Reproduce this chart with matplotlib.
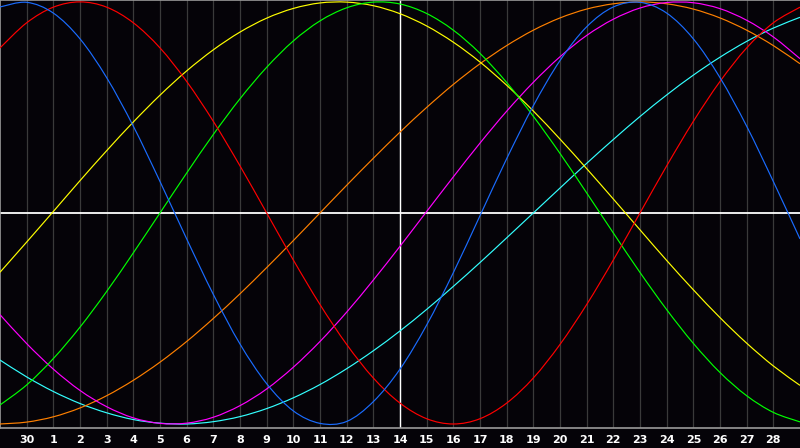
#!/usr/bin/env python3

import matplotlib.pyplot as plt
from matplotlib.path import Path
from matplotlib.patches import PathPatch

# day labels under the grid lines (positions 1..29)
etiquetas = ['30'] + [str(d) for d in range(1, 29)]
posiciones = list(range(31))  # 0..30 across the width

# values in percent, one per position
fisico = [97.6, 99.8, 94.7, 82.5, 64.1, 41.1, 14.9, -12.3, -38.6, -62.1, -80.9, -93.8,
          -99.7, -98.8, -89.4, -74.0, -53.1, -28.3, -1.3, 25.7, 50.8, 72.2, 88.2,
          97.6, 99.8, 94.7, 82.5, 64.1, 41.1, 14.9, -12.3]
emocional = [78.2, 90.1, 97.5, 100, 97.5, 90.1, 78.2, 62.3, 43.4, 22.3, 0, -22.3,
             -43.4, -62.3, -78.2, -90.1, -97.5, -100, -97.5, -90.1, -78.2, -62.3, -43.4,
             -22.3, 0, 22.3, 43.4, 62.3, 78.2, 90.1, 97.5]
intelectual = [-91.0, -81.5, -69.0, -54.1, -37.2, -18.9, 0, 18.9, 37.2, 54.1, 69.0, 81.5,
               91.0, 97.2, 99.9, 99.0, 94.5, 86.6, 75.6, 61.8, 45.8, 28.2, 9.5, -9.5,
               -28.2, -45.8, -61.8, -75.6, -86.6, -94.5, -99.0]
intuicion = [-48.2, -61.9, -74.0, -84.1, -91.8, -97.1, -99.7, -99.6, -96.8, -91.3, -83.4,
             -73.1, -60.9, -47.0, -31.8, -15.8, 0.7, 17.1, 33.1, 48.2, 61.9, 74.0, 84.1,
             91.8, 97.1, 99.7, 99.6, 96.8, 91.3, 83.4, 73.1]
estetico = [-28.1, -13.8, 0.7, 15.3, 29.5, 43.1, 55.8, 67.3, 77.3, 85.7, 92.3, 96.9,
            99.5, 99.9, 98.2, 94.4, 88.6, 80.9, 71.5, 60.5, 48.3, 35.0, 21.0, 6.6,
            -8.0, -22.5, -36.4, -49.6, -61.7, -72.5, -81.7]
conciencia = [-100, -99.1, -96.6, -92.4, -86.6, -79.3, -70.7, -60.9, -50, -38.3, -25.9,
              -13.1, 0, 13.1, 25.9, 38.3, 50, 60.9, 70.7, 79.3, 86.6, 92.4, 96.6, 99.1,
              100, 99.1, 96.6, 92.4, 86.6, 79.3, 70.7]
espiritual = [-69.7, -77.7, -84.6, -90.3, -94.7, -97.9, -99.6, -100.0, -98.9, -96.5,
              -92.7, -87.6, -81.3, -73.8, -65.3, -55.9, -45.7, -34.8, -23.5, -11.8, 0,
              11.8, 23.5, 34.8, 45.7, 55.9, 65.3, 73.8, 81.3, 87.6, 92.7]

series = [
    (espiritual, '#33ffff'),
    (conciencia, '#ff8000'),
    (intuicion, '#ff00ff'),
    (estetico, '#ffff00'),
    (intelectual, '#00ff00'),
    (emocional, '#ff0000'),
    (fisico, '#1a6cff'),
]

fondo = '#050308'


def curva_suave(xs, ys):
    # smooth path through the points (catmull-rom as cubic bezier)
    pts = list(zip(xs, ys))
    ext = [pts[0]] + pts + [pts[-1]]
    verts = [pts[0]]
    codes = [Path.MOVETO]
    for i in range(1, len(ext) - 2):
        p0, p1, p2, p3 = ext[i - 1], ext[i], ext[i + 1], ext[i + 2]
        c1 = (p1[0] + (p2[0] - p0[0]) / 6, p1[1] + (p2[1] - p0[1]) / 6)
        c2 = (p2[0] - (p3[0] - p1[0]) / 6, p2[1] - (p3[1] - p1[1]) / 6)
        verts += [c1, c2, p2]
        codes += [Path.CURVE4] * 3
    return Path(verts, codes)


def main():
    fig = plt.figure(figsize=(8, 4.48), dpi=100, facecolor=fondo)
    ax = fig.add_axes([0, 20 / 448, 1, 428 / 448])
    ax.set_facecolor(fondo)

    ax.set_xlim(0, 30)
    ax.set_ylim(-101.9, 100.9)

    # day grid
    for x in range(1, 30):
        ax.axvline(x, color='#3a3a3a', linewidth=0.9, zorder=1)

    # crosshair (today / zero)
    ax.axvline(15, color='white', linewidth=1.0, zorder=2)
    ax.axhline(0, color='white', linewidth=1.3, zorder=2)

    for valores, color in series:
        ax.add_patch(PathPatch(curva_suave(posiciones, valores), fill=False,
                               edgecolor=color, linewidth=0.85, zorder=3))

    ax.set_xticks(range(1, 30))
    ax.set_xticklabels(etiquetas)
    ax.tick_params(axis='x', length=0, pad=5, colors='white', labelsize=8)
    for t in ax.get_xticklabels():
        t.set_fontweight('bold')
    ax.set_yticks([])

    for lado in ['top', 'left', 'bottom']:
        ax.spines[lado].set_color('#9a9a9a')
        ax.spines[lado].set_linewidth(1.2)
    ax.spines['right'].set_visible(False)

    plt.savefig('out.png', dpi=100, facecolor=fondo)


if __name__ == "__main__":
    main()
